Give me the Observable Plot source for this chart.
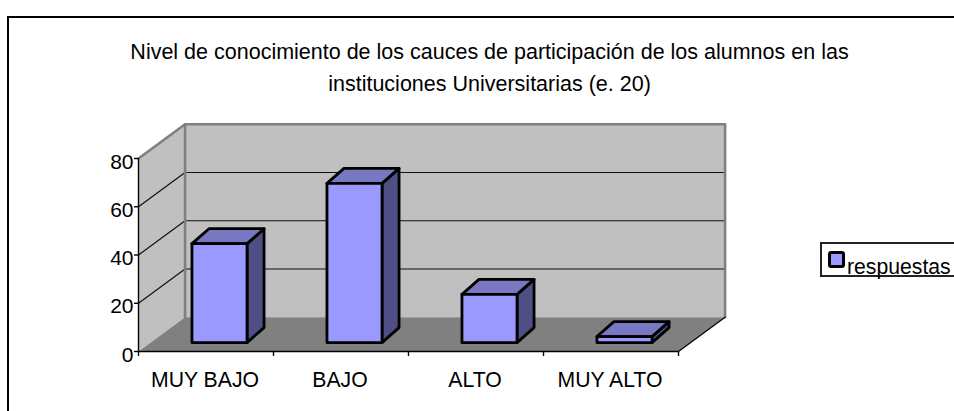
<!DOCTYPE html>
<html>
<head>
<meta charset="utf-8">
<script src="https://cdn.jsdelivr.net/npm/d3@7"></script>
<script src="https://cdn.jsdelivr.net/npm/@observablehq/plot@0.6"></script>
<style>
  html, body { margin: 0; padding: 0; background: #fff; overflow: hidden; width: 954px; height: 411px; }
  #wrap { position: relative; width: 954px; height: 411px; overflow: hidden; font-family: "Liberation Sans", Arial, sans-serif; color: #000; }
  #wrap svg { position: absolute; left: 0; top: 0; display: block; }
  #border { position: absolute; left: 7px; top: 16px; width: 1000px; height: 500px; border: 2px solid #000; box-sizing: border-box; }
  #legend { position: absolute; left: 820px; top: 242px; width: 200px; height: 35px; border: 2px solid #222; box-sizing: border-box; white-space: nowrap; }
  #legend i { position: absolute; left: 6px; top: 7px; width: 17px; height: 17px; border: 3px solid #000; border-radius: 3px; box-sizing: border-box; background: #9999FF; }
  #legend span { position: absolute; left: 25px; top: 11px; font-size: 21.2px; line-height: 24px; }
</style>
</head>
<body>
<div id="wrap"><div id="border"></div></div>
<script>
const categories = ["MUY BAJO", "BAJO", "ALTO", "MUY ALTO"];
const respuestas = [41, 66, 20, 2.5];
const yTicks = [0, 20, 40, 60, 80];
const gridValues = [20, 40, 60];
const seriesName = "respuestas";
const titleText = "Nivel de conocimiento de los cauces de participación de los alumnos en las\ninstituciones Universitarias (e. 20)";

// 3D projection expressed in data units of the two scales
const wallDx = 0.345, wallDy = 14.2;   // depth of the whole plot box
const barDx0 = 0.1, barDy0 = 3.7;      // front face offset from the front plane
const barDx = 0.126, barDy = 6.2;      // depth of one bar
const halfW = 0.204;

const poly = (id, pts) => [...pts, pts[0]].map(([x, y]) => ({id, x, y}));
const path = (id, pts) => pts.map(([x, y]) => ({id, x, y}));

const backWall = poly("b", [[wallDx, wallDy], [4 + wallDx, wallDy], [4 + wallDx, 80 + wallDy], [wallDx, 80 + wallDy]]);
const sideWall = poly("s", [[0, 0], [wallDx, wallDy], [wallDx, 80 + wallDy], [0, 80]]);
const floor = poly("f", [[0, 0], [4, 0], [4 + wallDx, wallDy], [wallDx, wallDy]]);
const wallEdge = path("e", [[0, 80], [wallDx, 80 + wallDy], [4 + wallDx, 80 + wallDy], [4 + wallDx, wallDy]]);
const wallEdge2 = path("e2", [[wallDx, 80 + wallDy], [wallDx, wallDy]]);
const floorEdge = path("fe", [[4, 0], [4 + wallDx, wallDy]]);
const grid = gridValues.flatMap(v => path(v, [[0, v], [wallDx, v + wallDy], [4 + wallDx, v + wallDy]]));

const fronts = [], tops = [], sides = [];
respuestas.forEach((v, i) => {
  const x0 = i + 0.5 + barDx0 - halfW, x1 = i + 0.5 + barDx0 + halfW;
  const y0 = barDy0, y1 = barDy0 + v;
  fronts.push(...poly(i, [[x0, y0], [x1, y0], [x1, y1], [x0, y1]]));
  tops.push(...poly(i, [[x0, y1], [x1, y1], [x1 + barDx, y1 + barDy], [x0 + barDx, y1 + barDy]]));
  sides.push(...poly(i, [[x1, y0], [x1 + barDx, y0 + barDy], [x1 + barDx, y1 + barDy], [x1, y1]]));
});

const xy = {x: "x", y: "y", z: "id"};
const barStyle = {stroke: "#000", strokeWidth: 2.8, strokeLinejoin: "round"};

const chart = Plot.plot({
  width: 954,
  height: 411,
  marginLeft: 138,
  marginRight: 276,
  marginTop: 158,
  marginBottom: 60,
  x: {domain: [0, 4]},
  y: {domain: [0, 80]},
  style: {fontFamily: "'Liberation Sans', Arial, sans-serif", background: "transparent", color: "#000"},
  marks: [
    Plot.line(backWall, {...xy, fill: "#C0C0C0", stroke: "none"}),
    Plot.line(sideWall, {...xy, fill: "#C0C0C0", stroke: "none"}),
    Plot.line(floor, {...xy, fill: "#808080", stroke: "none"}),
    Plot.line(grid, {...xy, stroke: "#111", strokeWidth: 1.2}),
    Plot.line(wallEdge, {...xy, stroke: "#808080", strokeWidth: 2.6}),
    Plot.line(wallEdge2, {...xy, stroke: "#808080", strokeWidth: 2.6}),
    Plot.line(floorEdge, {...xy, stroke: "#000", strokeWidth: 1.2}),
    Plot.ruleX([0], {stroke: "#000", strokeWidth: 1.4}),
    Plot.ruleY([0], {stroke: "#000", strokeWidth: 1.4}),
    Plot.line(sides, {...xy, fill: "#4F4F85", ...barStyle}),
    Plot.line(tops, {...xy, fill: "#7777C2", ...barStyle}),
    Plot.line(fronts, {...xy, fill: "#9999FF", ...barStyle}),
    Plot.axisY({ticks: yTicks, label: null, tickSize: 4, tickFormat: () => "", strokeWidth: 1.4, stroke: "#000"}),
    Plot.axisY({ticks: yTicks, label: null, tickSize: 0, tickPadding: 5, fontSize: 21, dy: 3.5, color: "#000"}),
    Plot.axisX({ticks: [0, 1, 2, 3, 4], tickFormat: () => "", label: null, tickSize: 5, strokeWidth: 1.4, stroke: "#000"}),
    Plot.axisX({ticks: categories.map((d, i) => i + 0.5), tickFormat: d => categories[d - 0.5], label: null, tickSize: 0, tickPadding: 20, dx: -1, fontSize: 21.2, color: "#000"}),
    Plot.text([titleText], {frameAnchor: "top", dx: 81, dy: -93.5, fontSize: 21.5, lineHeight: 1.49, lineAnchor: "middle", fill: "#000"})
  ]
});
const wrap = document.getElementById("wrap");
wrap.appendChild(chart);
const legend = document.createElement("div");
legend.id = "legend";
const sw = document.createElement("i");
const lab = document.createElement("span");
lab.textContent = seriesName;
legend.append(sw, lab);
wrap.appendChild(legend);
</script>
</body>
</html>
